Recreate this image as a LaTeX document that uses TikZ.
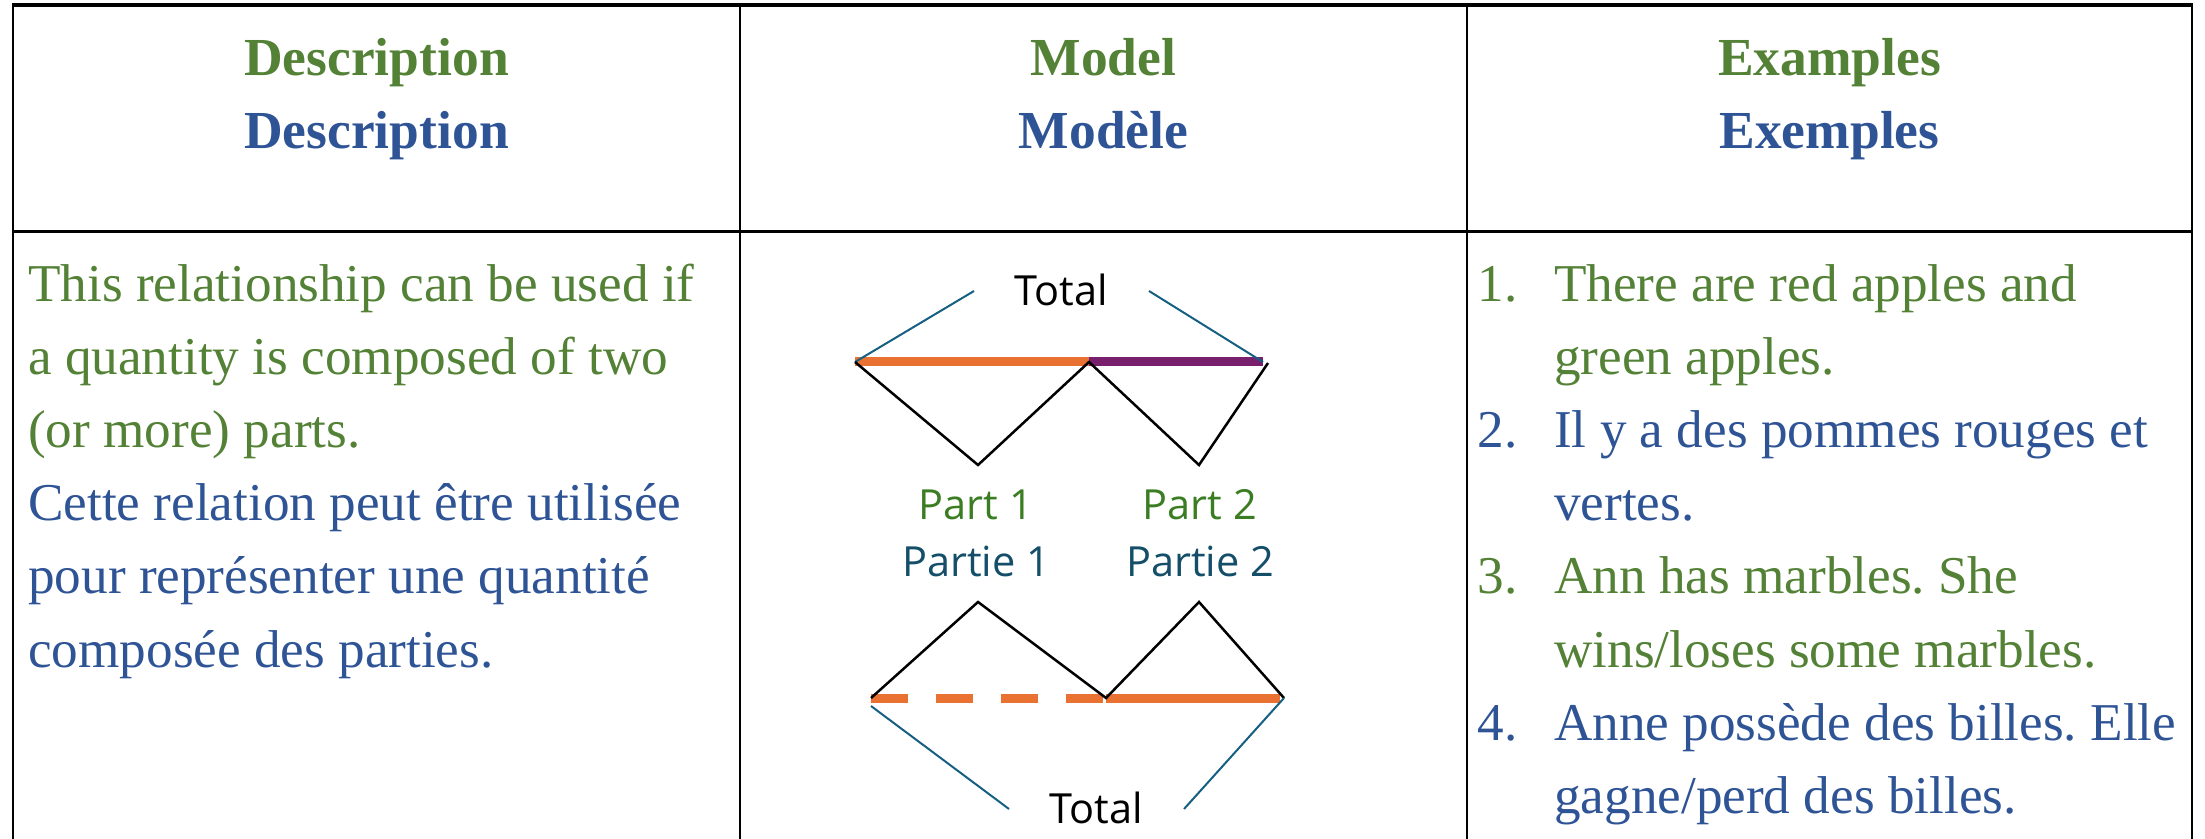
\documentclass[tikz,border=0pt]{standalone}
\usepackage{fontspec}
\setmainfont{Liberation Serif}
\newfontfamily\modelfont{Open Sans}
\frenchspacing
\definecolor{txtgreen}{RGB}{83,129,53}
\definecolor{txtblue}{RGB}{47,84,150}
\definecolor{partgreen}{RGB}{59,125,35}
\definecolor{partteal}{RGB}{20,78,105}
\definecolor{linkblue}{RGB}{21,96,130}
\definecolor{barorange}{RGB}{233,113,50}
\definecolor{barpurple}{RGB}{120,32,110}
\tikzset{
  grid/.style={line width=2.5pt, black},
  hdr/.style={font=\fontsize{53.5}{73.2}\selectfont\bfseries, inner sep=0pt, anchor=base},
  body/.style={font=\fontsize{53.2}{73.2}\selectfont, inner sep=0pt, anchor=base west},
  num/.style={font=\fontsize{53.2}{73.2}\selectfont, inner sep=0pt, anchor=base east},
  lbl/.style={font=\modelfont\fontsize{41.5}{50}\selectfont, inner sep=0pt, anchor=base},
  zig/.style={line width=2.5pt, black, line join=miter},
  link/.style={line width=2pt, linkblue},
  bar/.style={line width=9pt},
}
\begin{document}
\begin{tikzpicture}[x=1pt, y=-1pt]
\useasboundingbox (0,0) rectangle (2205,838);
\begin{scope}
\clip (0,0) rectangle (2205,838);
% table grid
\draw[grid, line width=3.5pt] (12,5) -- (2193,5);
\draw[grid, line width=3pt] (12,231) -- (2193,231);
\draw[grid] (13,4) -- (13,840);
\draw[grid] (740,4) -- (740,840);
\draw[grid] (1467,4) -- (1467,840);
\draw[grid] (2192,4) -- (2192,840);
\end{scope}

% headers
\node[hdr, txtgreen] (h1a) at (376.5,75) {Description};
\node[hdr, txtblue]  (h1b) at (376.5,148) {Description};
\node[hdr, txtgreen] (h2a) at (1103.5,75) {Model};
\node[hdr, txtblue]  (h2b) at (1103.5,148) {Modèle};
\node[hdr, txtgreen] (h3a) at (1829.5,75) {Examples};
\node[hdr, txtblue]  (h3b) at (1829.5,148) {Exemples};

% description column
\node[body, txtgreen] (d1) at (28,301)   {This relationship can be used if};
\node[body, txtgreen] (d2) at (28,374.2) {a quantity is composed of two};
\node[body, txtgreen] (d3) at (28,447.4) {(or more) parts.};
\node[body, txtblue]  (d4) at (28,520.6) {Cette relation peut être utilisée};
\node[body, txtblue]  (d5) at (28,593.8) {pour représenter une quantité};
\node[body, txtblue]  (d6) at (28,667)   {composée des parties.};

% examples column
\node[num, txtgreen]  (n1) at (1518,301)   {1.};
\node[body, txtgreen] (e1) at (1554,301)   {There are red apples and};
\node[body, txtgreen] (e2) at (1554,374.2) {green apples.};
\node[num, txtblue]   (n2) at (1518,447.4) {2.};
\node[body, txtblue]  (e3) at (1554,447.4) {Il y a des pommes rouges et};
\node[body, txtblue]  (e4) at (1554,520.6) {vertes.};
\node[num, txtgreen]  (n3) at (1518,593.8) {3.};
\node[body, txtgreen] (e5) at (1554,593.8) {Ann has marbles. She};
\node[body, txtgreen] (e6) at (1554,667)   {wins/loses some marbles.};
\node[num, txtblue]   (n4) at (1518,740.2) {4.};
\node[body, txtblue]  (e7) at (1554,740.2) {Anne possède des billes. Elle};
\node[body, txtblue]  (e8) at (1554,813.4) {gagne/perd des billes.};

% model: top
\node[lbl, black] (totA) at (1061,305.6) {Total};
\coordinate (tAl) at (974,291);
\coordinate (tAr) at (1149,291);
\coordinate (a0) at (855,362);
\coordinate (a1) at (978,465);
\coordinate (a2) at (1089,362);
\coordinate (a3) at (1199,465);
\coordinate (a4) at (1268,363);
\coordinate (a5) at (1263,362);
\draw[bar, barorange, line cap=butt] (855,361.5) -- (1089,361.5);
\draw[bar, barpurple, line cap=butt] (1089,361.5) -- (1263,361.5);
\draw[link] (a0) -- (tAl);
\draw[link] (tAr) -- (a5);
\draw[zig] (a0) -- (a1) -- (a2) -- (a3) -- (a4);

% labels
\node[lbl, partgreen] (p1) at (976,519) {Part 1};
\node[lbl, partteal]  (q1) at (976,576) {Partie 1};
\node[lbl, partgreen] (p2) at (1200,519) {Part 2};
\node[lbl, partteal]  (q2) at (1200,576) {Partie 2};

% model: bottom
\coordinate (b0) at (871,698);
\coordinate (b1) at (978,602);
\coordinate (b2) at (1106,698);
\coordinate (b3) at (1199,602);
\coordinate (b4) at (1284,698);
\draw[bar, barorange, dash pattern=on 37pt off 28pt, line cap=butt] (871,698) -- (1106,698);
\draw[bar, barorange, line cap=butt] (1106,698) -- (1280,698);
\draw[zig] (b0) -- (b1) -- (b2) -- (b3) -- (b4);
\node[lbl, black] (totB) at (1096,823) {Total};
\coordinate (tBl) at (1009,809);
\coordinate (tBr) at (1184,809);
\draw[link] (871,706) -- (tBl);
\draw[link] (b4) -- (tBr);
\end{tikzpicture}
\end{document}
